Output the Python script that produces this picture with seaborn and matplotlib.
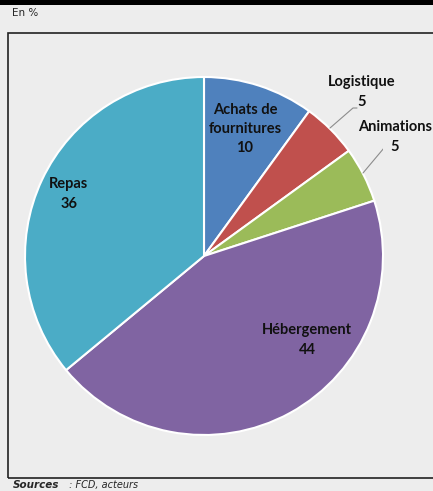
import numpy as np
import matplotlib
matplotlib.use("Agg")
import matplotlib.pyplot as plt
import matplotlib.patches as mpatches
import seaborn as sns

# données
categories = ["Achats de\nfournitures", "Logistique", "Animations", "Hébergement", "Repas"]
values = [10, 5, 5, 44, 36]
colors = ["#4F81BD", "#C0504D", "#9BBB59", "#8064A2", "#4BACC6"]

sns.set_style("white")
plt.rcParams['font.family'] = ['Lato', 'DejaVu Sans']

W, H = 433, 491
fig = plt.figure(figsize=(W / 100, H / 100), dpi=100, facecolor="#EDEDED")

# bandeau du titre (coupé)
fig.patches.append(mpatches.Rectangle((0, 1 - 5 / H), 1, 5 / H, transform=fig.transFigure,
                                      facecolor="black", edgecolor="none", zorder=0))
fig.text(12 / W, 1 - 13 / H, "En %", fontsize=7.5, va="center", ha="left", family=['DejaVu Sans'])

# cadre
fig.patches.append(mpatches.Rectangle((8 / W, 1 - 478 / H), 1, (478 - 33) / H, transform=fig.transFigure,
                                      facecolor="none", edgecolor="#222222", linewidth=1.2, zorder=1))

fig.text(13 / W, 1 - 485 / H, "Sources", fontsize=7.5, fontweight="bold", fontstyle="italic",
         va="center", ha="left", family=['DejaVu Sans'])
fig.text(66 / W, 1 - 485 / H, " : FCD, acteurs", fontsize=7, fontstyle="italic",
         va="center", ha="left", family=['DejaVu Sans'])

# camembert
cx, cy, r = 204, 256, 179
ax = fig.add_axes([(cx - r) / W, (H - cy - r) / H, 2 * r / W, 2 * r / H])
ax.set_facecolor("none")
ax.pie(values, colors=colors, startangle=90, counterclock=False, radius=1,
       wedgeprops=dict(edgecolor="white", linewidth=1.5))
ax.set_xlim(-1, 1)
ax.set_ylim(-1, 1)
ax.set_aspect("equal")
ax.axis("off")


def px(x, y):
    return ((x - cx) / r, (cy - y) / r)


labels_pos = [(245, 129), (362, 92), (395, 137), (307, 340), (69, 194)]
for cat, val, (lx, ly) in zip(categories, values, labels_pos):
    ax.text(*px(lx, ly), f"{cat}\n{val}", ha="center", va="center", fontsize=10.5,
            fontweight="bold", color="#111111", linespacing=1.5)

# traits de rappel
for pts in [[(330, 128), (353, 108), (357, 108)], [(363, 173), (384, 148), (391, 148)]]:
    xs, ys = zip(*[px(*p) for p in pts])
    ax.plot(xs, ys, color="#8c8c8c", linewidth=0.8)

fig.savefig("out.png", dpi=100, facecolor=fig.get_facecolor())
